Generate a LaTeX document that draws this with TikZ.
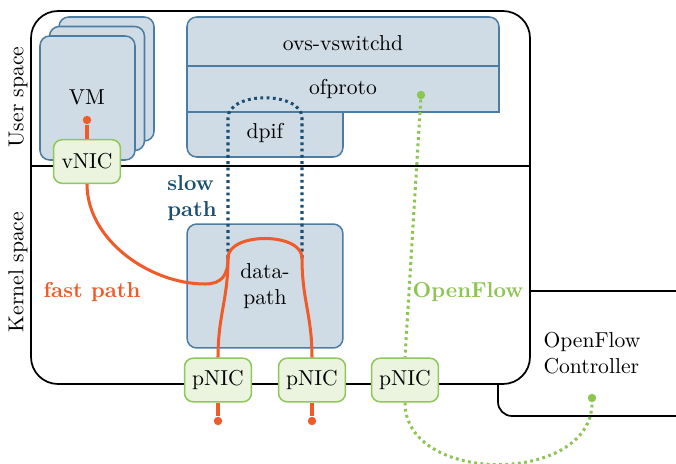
\documentclass[tikz,border=0pt]{standalone}
\usepackage{tikz}
\usepackage{xcolor}

\definecolor{ovsfill}{HTML}{CFDCE5}
\definecolor{ovsedge}{HTML}{4D7CA3}
\definecolor{nicfill}{HTML}{EBF4DF}
\definecolor{nicedge}{HTML}{8FC75A}
\definecolor{fastc}{HTML}{F15A29}
\definecolor{slowc}{HTML}{1A4F72}
\definecolor{ofc}{HTML}{8DC553}

\begin{document}
\begin{tikzpicture}
  [x=0.463pt,y=-0.463pt,
   hostbox/.style={draw=black,fill=white,line width=0.8pt,rounded corners=12.5pt},
   bluebox/.style={draw=ovsedge,fill=ovsfill,line width=0.7pt,rounded corners=4.5pt},
   nic/.style={draw=nicedge,fill=nicfill,line width=0.7pt,rounded corners=4pt,
     minimum width=31pt,minimum height=20.2pt,inner sep=0pt},
   fastline/.style={fastc,line width=1.4pt},
   slowline/.style={slowc,line width=1.4pt,dash pattern=on 1.3pt off 1.6pt},
   ofline/.style={ofc,line width=1.4pt,dash pattern=on 1.3pt off 1.6pt},
   endpt/.style={circle,fill=#1,inner sep=0pt,minimum size=3.9pt}]
  \useasboundingbox (0,0) rectangle (676,464);
  \clip (0,0) rectangle (676,464);

  % controller and host
  \draw[hostbox,rounded corners=6.5pt] (498,291) rectangle (700,416);
  \draw[hostbox] (31,11) rectangle (530,384);
  \draw[line width=0.8pt] (31,166) -- (530,166);

  % VMs
  \foreach \d in {19,9.5,0}
    \draw[bluebox] (40+\d,36-\d) rectangle (135+\d,160-\d);
  \node (vm) at (87,97) {VM};

  % ovs-vswitchd / ofproto / dpif
  \draw[bluebox] (187,90) -- (187,17) -- (499,17) -- (499,60) [sharp corners]
    -- (499,112) -- (343,112) -- (343,130) [rounded corners=4.5pt]
    -- (343,157) -- (187,157) -- cycle;
  \draw[ovsedge,line width=0.7pt] (187,66) -- (499,66) (187,112) -- (343,112);
  \node (ovs) at (343,43) {ovs-vswitchd};
  \node (ofproto) at (343,89) {ofproto};
  \node (dpif) at (265,133) {dpif};

  \node[bluebox,minimum width=72.2pt,minimum height=57.4pt,align=center] (dp) at (265,286) {data-\\path};
  \coordinate (inL) at (228,258);
  \coordinate (inR) at (302,258);
  \coordinate (upL) at (228,118);
  \coordinate (upR) at (302,118);

  \node[nic] (vnic) at (87,161.5) {vNIC};
  \node[nic] (pnic1) at (218,380) {pNIC};
  \node[nic] (pnic2) at (312,380) {pNIC};
  \node[nic] (pnic3) at (405,380) {pNIC};

  \node[endpt=fastc] (vmdot) at (87,120) {};
  \node[endpt=fastc] (p1dot) at (218,421) {};
  \node[endpt=fastc] (p2dot) at (312,421) {};
  \node[endpt=ofc] (ofdot) at (421,95) {};
  \node[endpt=ofc] (ctrldot) at (592,398) {};

  % slow path
  \draw[slowline] (inL) -- (upL) .. controls (228,91) and (302,91) .. (upR) -- (inR);

  % OpenFlow
  \draw[ofline] (ofdot) -- (pnic3.north);
  \draw[ofline] (pnic3.south) .. controls +(0,83) and +(0,87) .. (ctrldot);

  % fast path
  \draw[fastline] (vnic.south) .. controls (87,240) and (150,284) .. (205,284)
    .. controls (222,284) and (228,275) .. (inL);
  \draw[fastline] (inL) .. controls (228,232) and (302,232) .. (inR);
  \draw[fastline] (inL) .. controls (228,300) and (218,315) .. (pnic1.north);
  \draw[fastline] (inR) .. controls (302,300) and (312,315) .. (pnic2.north);
  \foreach \from/\to in {vmdot/vnic,pnic1/p1dot,pnic2/p2dot}
    \draw[fastline] (\from) -- (\to);

  \node[slowc,font=\bfseries,align=left] (slowlbl) at (192,198) {slow\\path};
  \node[fastc,font=\bfseries] (fastlbl) at (92,292) {fast path};
  \node[ofc,font=\bfseries] (oflbl) at (468,292) {OpenFlow};
  \node[rotate=90] (user) at (18,97) {User space};
  \node[rotate=90] (kernel) at (18,272) {Kernel space};
  \node[align=left] (ctrl) at (592,353) {OpenFlow\\Controller};
\end{tikzpicture}
\end{document}
